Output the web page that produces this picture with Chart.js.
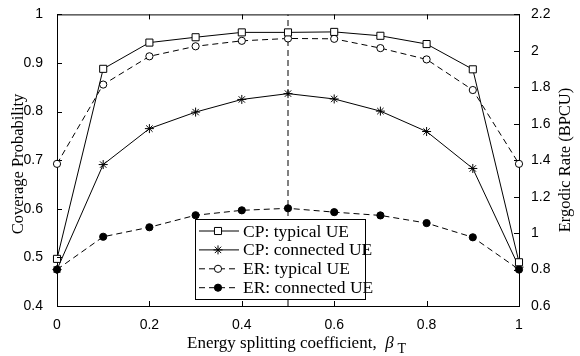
<!DOCTYPE html>
<html>
<head>
<meta charset="utf-8">
<script src="https://cdn.jsdelivr.net/npm/chart.js@4.4.1/dist/chart.umd.min.js"></script>
<style>
  html, body { margin: 0; padding: 0; background: #fff; }
  #wrap { width: 580px; height: 356px; }
</style>
</head>
<body>
<div id="wrap"><canvas id="chartCanvas" width="580" height="356"></canvas></div>
<script>
const beta = [0, 0.1, 0.2, 0.3, 0.4, 0.5, 0.6, 0.7, 0.8, 0.9, 1];
const cpTypical = [0.497, 0.888, 0.942, 0.953, 0.963, 0.963, 0.964, 0.956, 0.939, 0.887, 0.49];
const cpConnected = [0.475, 0.691, 0.765, 0.799, 0.825, 0.837, 0.826, 0.801, 0.759, 0.683, 0.48];
const erTypical = [1.38, 1.815, 1.97, 2.025, 2.055, 2.068, 2.066, 2.015, 1.953, 1.785, 1.38];
const erConnected = [0.80, 0.98, 1.032, 1.098, 1.125, 1.136, 1.115, 1.097, 1.055, 0.977, 0.80];
const seriesNames = ['CP: typical UE', 'CP: connected UE', 'ER: typical UE', 'ER: connected UE'];
const splitBeta = 0.5;
const cpRange = [0.4, 1];
const erRange = [0.6, 2.2];

const pts = ys => beta.map((x, i) => ({ x: x, y: ys[i] }));
const dash = [6, 4];
const serif = '"Liberation Serif", "Times New Roman", serif';
const sans = '"Liberation Sans", Arial, sans-serif';

function drawMarker(ctx, style, r, x, y, fill) {
    ctx.save();
    ctx.fillStyle = fill;
    ctx.strokeStyle = '#000';
    ctx.lineWidth = 1;
    ctx.beginPath();
    if (style === 'rect') {
        const s = r * Math.SQRT1_2;
        ctx.rect(x - s, y - s, 2 * s, 2 * s);
        ctx.fill(); ctx.stroke();
    } else if (style === 'circle') {
        ctx.arc(x, y, r, 0, Math.PI * 2);
        ctx.fill(); ctx.stroke();
    } else {
        for (let k = 0; k < 4; k++) {
            const ang = k * Math.PI / 4;
            ctx.moveTo(x - r * Math.cos(ang), y - r * Math.sin(ang));
            ctx.lineTo(x + r * Math.cos(ang), y + r * Math.sin(ang));
        }
        ctx.stroke();
    }
    ctx.restore();
}

// matlab-ish box: inward ticks, top border, titles, legend
const frame = {
    id: 'frame',
    afterDatasetsDraw(chart) {
        const ctx = chart.ctx;
        const a = chart.chartArea;
        const sx = chart.scales.x, yl = chart.scales.y, yr = chart.scales.y1;
        const len = 5;
        ctx.save();
        ctx.strokeStyle = '#000';
        ctx.lineWidth = 1;
        ctx.beginPath();
        ctx.moveTo(a.left, a.top + 0.5);
        ctx.lineTo(a.right, a.top + 0.5);
        sx.ticks.forEach(t => {
            const px = Math.round(sx.getPixelForValue(t.value)) + 0.5;
            ctx.moveTo(px, a.bottom); ctx.lineTo(px, a.bottom - len);
            ctx.moveTo(px, a.top); ctx.lineTo(px, a.top + len);
        });
        yl.ticks.forEach(t => {
            const py = Math.round(yl.getPixelForValue(t.value)) + 0.5;
            ctx.moveTo(a.left, py); ctx.lineTo(a.left + len, py);
        });
        yr.ticks.forEach(t => {
            const py = Math.round(yr.getPixelForValue(t.value)) + 0.5;
            ctx.moveTo(a.right, py); ctx.lineTo(a.right - len, py);
        });
        ctx.stroke();

        // axis titles
        ctx.fillStyle = '#000';
        ctx.font = '16.5px ' + serif;
        ctx.textAlign = 'center';
        ctx.textBaseline = 'middle';
        ctx.save();
        ctx.translate(19, 164);
        ctx.rotate(-Math.PI / 2);
        ctx.fillText('Coverage Probability', 0, 0);
        ctx.restore();
        ctx.save();
        ctx.translate(566, 160);
        ctx.rotate(-Math.PI / 2);
        ctx.fillText('Ergodic Rate (BPCU)', 0, 0);
        ctx.restore();

        ctx.textAlign = 'left';
        ctx.textBaseline = 'alphabetic';
        const main = 'Energy splitting coefficient,  ';
        ctx.font = '17px ' + serif;
        const w1 = ctx.measureText(main).width;
        ctx.font = 'italic 17px ' + serif;
        const w2 = ctx.measureText('\u03B2').width;
        const x0 = 187;
        const base = 348;
        ctx.font = '17px ' + serif;
        ctx.fillText(main, x0, base);
        ctx.font = 'italic 17px ' + serif;
        ctx.fillText('\u03B2', x0 + w1, base);
        ctx.font = '14px ' + serif;
        ctx.fillText('T', x0 + w1 + w2 + 4, base + 5);

        // legend
        const box = { l: 195.5, t: 219.5, r: 365.5, b: 299.5 };
        ctx.fillStyle = '#fff';
        ctx.fillRect(box.l, box.t, box.r - box.l, box.b - box.t);
        ctx.strokeStyle = '#000';
        ctx.strokeRect(box.l, box.t, box.r - box.l, box.b - box.t);
        ctx.font = '17.5px ' + serif;
        ctx.textBaseline = 'middle';
        for (let i = 0; i < 4; i++) {
            const ds = chart.data.datasets[i];
            const yy = 231 + i * 18.9;
            ctx.strokeStyle = '#000';
            ctx.lineWidth = 1;
            ctx.setLineDash(ds.borderDash || []);
            ctx.beginPath();
            ctx.moveTo(199, yy); ctx.lineTo(239, yy);
            ctx.stroke();
            ctx.setLineDash([]);
            drawMarker(ctx, ds.pointStyle, ds.pointRadius, 218, yy, ds.pointBackgroundColor);
            ctx.fillStyle = '#000';
            ctx.fillText(ds.label, 243, yy + 1);
        }
        ctx.restore();
    }
};

const tickFont = { family: sans, size: 14 };
const fmt = v => String(Math.round(v * 10) / 10);

new Chart(document.getElementById('chartCanvas').getContext('2d'), {
    type: 'scatter',
    data: {
        datasets: [
            {
                label: seriesNames[0], data: pts(cpTypical), yAxisID: 'y', clip: false,
                showLine: true, borderColor: '#000', borderWidth: 1,
                pointStyle: 'rect', pointRadius: 5, pointBorderColor: '#000',
                pointBackgroundColor: '#fff', pointBorderWidth: 1
            },
            {
                label: seriesNames[1], data: pts(cpConnected), yAxisID: 'y', clip: false,
                showLine: true, borderColor: '#000', borderWidth: 1,
                pointStyle: 'star', pointRadius: 4.5, pointBorderColor: '#000',
                pointBackgroundColor: '#000', pointBorderWidth: 1
            },
            {
                label: seriesNames[2], data: pts(erTypical), yAxisID: 'y1', clip: false,
                showLine: true, borderColor: '#000', borderWidth: 1, borderDash: dash,
                pointStyle: 'circle', pointRadius: 3.6, pointBorderColor: '#000',
                pointBackgroundColor: '#fff', pointBorderWidth: 1
            },
            {
                label: seriesNames[3], data: pts(erConnected), yAxisID: 'y1', clip: false,
                showLine: true, borderColor: '#000', borderWidth: 1, borderDash: dash,
                pointStyle: 'circle', pointRadius: 3.6, pointBorderColor: '#000',
                pointBackgroundColor: '#000', pointBorderWidth: 1
            },
            {
                label: 'split', data: [{ x: splitBeta, y: cpRange[0] }, { x: splitBeta, y: cpRange[1] }],
                yAxisID: 'y', showLine: true, borderColor: '#000', borderWidth: 1,
                borderDash: dash, pointRadius: 0
            }
        ]
    },
    options: {
        responsive: false,
        animation: false,
        layout: { padding: { top: 12 } },
        plugins: { legend: { display: false }, tooltip: { enabled: false } },
        scales: {
            x: {
                type: 'linear', min: 0, max: 1,
                grid: { display: false },
                border: { display: true, color: '#000' },
                ticks: { stepSize: 0.2, color: '#000', font: tickFont, padding: 3, maxRotation: 0, callback: fmt },
                afterFit: s => { s.height = 50; }
            },
            y: {
                position: 'left', min: cpRange[0], max: cpRange[1],
                grid: { display: false },
                border: { display: true, color: '#000' },
                ticks: { stepSize: 0.1, color: '#000', font: tickFont, padding: 6, callback: fmt },
                afterFit: s => { s.width = 57; }
            },
            y1: {
                position: 'right', min: erRange[0], max: erRange[1],
                grid: { display: false },
                border: { display: true, color: '#000' },
                ticks: { stepSize: 0.2, color: '#000', font: tickFont, padding: 4, callback: fmt },
                afterFit: s => { s.width = 61; }
            }
        }
    },
    plugins: [frame]
});
</script>
</body>
</html>
